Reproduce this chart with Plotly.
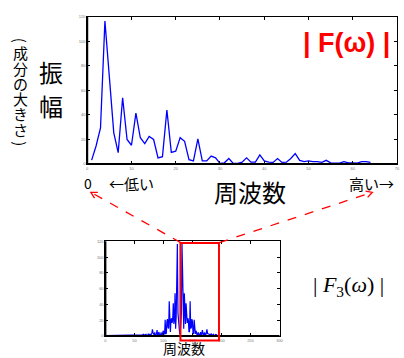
import plotly.graph_objects as go
import math

W, H = 404, 358

# ---- data ----
top_freq = list(range(1, 65))
top_amp = [3.2, 14.7, 29.4, 116.5, 71, 25.4, 9.3, 54, 20, 15.3,
           41.5, 21.4, 16.6, 22.5, 20, 5, 6, 44, 9.5, 10.5,
           21.5, 18.5, 3.5, 2.5, 20.5, 2.5, 2.5, 6.5, 5, 0.5,
           1, 4.5, 0.5, 0.5, 1.5, 5, 1.5, 1.5, 7.5, 2.5,
           1.5, 1.3, 4.5, 1.3, 1.5, 4.5, 8.5, 3, 2, 2.5,
           2, 2, 1.3, 3, 1, 1, 0.8, 2, 1, 1,
           0.8, 2, 2, 1.3]
dc_amp = 3.0
tail_amp = 0.5
n_full = 256
center = 128

top_xticks = [0, 10, 20, 30, 40, 50, 60, 70]
top_yticks = [0, 20, 40, 60, 80, 100, 120]
bot_xticks = [0, 50, 100, 150, 200, 250, 300]
bot_yticks = [0, 20, 40, 60, 80, 100, 120]

# symmetric full spectrum (mirror of the read half-spectrum)
half = [dc_amp] + top_amp
full_x = list(range(n_full))
full_y = []
for i in full_x:
    k = abs(i - center)
    full_y.append(half[k] if k < len(half) else tail_amp)

def px(x):
    return x / W

def py(y):
    return 1 - y / H

fig = go.Figure()
fig.add_trace(go.Scatter(x=top_freq, y=top_amp, mode='lines',
                         line=dict(color='#0000ff', width=1.3),
                         xaxis='x', yaxis='y', showlegend=False, hoverinfo='skip'))
fig.add_trace(go.Scatter(x=full_x, y=full_y, mode='lines',
                         line=dict(color='#0000ff', width=1.2),
                         xaxis='x2', yaxis='y2', showlegend=False, hoverinfo='skip'))

tickfont = dict(size=4, color='#777', family='Liberation Sans')
axcommon = dict(showgrid=False, zeroline=False, showline=True, linecolor='black',
                linewidth=1, mirror='ticks', ticks='inside', ticklen=3,
                tickcolor='black', tickfont=tickfont, fixedrange=True)

fig.update_layout(
    width=W, height=H, margin=dict(l=0, r=0, t=0, b=0),
    paper_bgcolor='white', plot_bgcolor='white',
    xaxis=dict(domain=[px(87.3), px(401)], range=[0, 70], tickvals=top_xticks,
               anchor='y', **axcommon),
    yaxis=dict(domain=[py(163.3), py(14)], range=[0, 120], tickvals=top_yticks,
               anchor='x', **axcommon),
    xaxis2=dict(domain=[px(105.7), px(282)], range=[0, 300], tickvals=bot_xticks,
                anchor='y2', **axcommon),
    yaxis2=dict(domain=[py(337.7), py(241.7)], range=[0, 120], tickvals=bot_yticks,
                anchor='x2', **axcommon),
)

shapes = []
# thicker left/bottom frame lines
for (x0, y0, x1, y1) in [(87.3, 14, 87.3, 163.3), (87.3, 163.3, 401, 163.3),
                         (105.7, 241.7, 105.7, 337.7), (105.7, 337.7, 282, 337.7)]:
    shapes.append(dict(type='line', xref='paper', yref='paper',
                       x0=px(x0), y0=py(y0), x1=px(x1), y1=py(y1),
                       line=dict(color='black', width=2)))
# red rectangle in bottom plot
shapes.append(dict(type='rect', xref='x2', yref='paper', x0=129.3, x1=195.7,
                   y0=py(342.3), y1=py(243.3), line=dict(color='#ff0000', width=2),
                   fillcolor='rgba(0,0,0,0)'))
# dashed arrows
for (sx, sy, ex, ey) in [(182, 243, 91, 192), (221, 243, 376, 192)]:
    shapes.append(dict(type='line', xref='paper', yref='paper',
                       x0=px(sx), y0=py(sy), x1=px(ex), y1=py(ey),
                       line=dict(color='#ff0000', width=1.3, dash='dash')))
    ang = math.atan2(sy - ey, sx - ex)
    L = 7
    pts = []
    for d in (0.5, -0.5):
        pts.append((ex + L * math.cos(ang + d), ey + L * math.sin(ang + d)))
    path = 'M {} {} L {} {} L {} {}'.format(px(pts[0][0]), py(pts[0][1]),
                                             px(ex), py(ey), px(pts[1][0]), py(pts[1][1]))
    shapes.append(dict(type='path', xref='paper', yref='paper', path=path,
                       line=dict(color='#ff0000', width=1.3)))
fig.update_layout(shapes=shapes)

jp = 'Noto Sans CJK JP'
ann = []
def text(t, x, y, size, color='black', family=jp, angle=0):
    ann.append(dict(text=t, x=px(x), y=py(y), xref='paper', yref='paper',
                    showarrow=False, xanchor='center', yanchor='middle',
                    textangle=angle,
                    font=dict(size=size, color=color, family=family)))

text('<b>| F(ω) |</b>', 350, 41, 27, color='#ff0000', family='Liberation Sans')
text('振', 51, 69, 24)
text('幅', 51, 104, 24)
text('(', 20, 38, 15, angle=90)
for ch, yy in zip('成分の大きさ', [50, 66, 82, 97, 112, 128]):
    text(ch, 20, yy, 15)
text(')', 20, 143, 15, angle=90)
text('0', 88, 183, 14)
text('←低い', 132, 183, 15)
text('周波数', 252, 191, 24)
text('高い→', 375, 183, 15)
text('周波数', 185, 350, 14)
text('| <i>F</i><sub>3</sub>(<i>ω</i>) |', 352, 287, 22, family='Liberation Serif')
fig.update_layout(annotations=ann)

fig.write_html('out.html')
